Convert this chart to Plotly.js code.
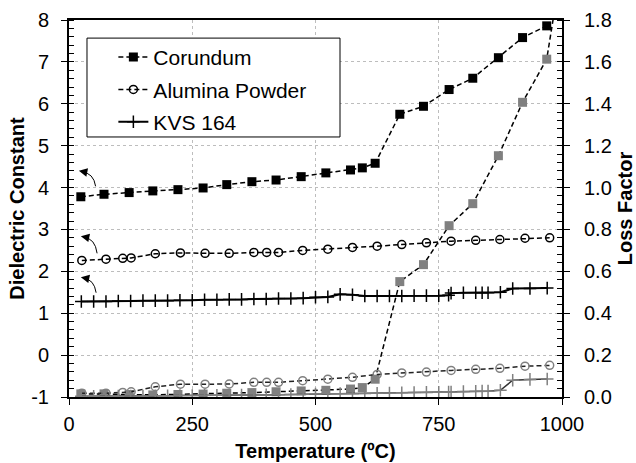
<!DOCTYPE html>
<html><head><meta charset="utf-8">
<script src="https://cdn.plot.ly/plotly-3.0.1.min.js"></script>
<style>html,body{margin:0;padding:0;background:#fff}#chart{width:636px;height:463px}</style>
</head><body><div id="chart"></div>
<script>
// ---- data ----
const corTemp = [24,71,122,170,221,272,320,371,420,471,521,571,595,621,671,719,771,819,871,920,969];
const corDiel = [3.78,3.84,3.88,3.92,3.95,3.99,4.07,4.14,4.18,4.26,4.35,4.42,4.47,4.58,5.75,5.94,6.34,6.61,7.10,7.58,7.86];
const corLossTemp = [24,71,122,170,221,272,320,371,420,471,521,571,595,621,671,719,771,819,871,920,969,992];
const corLoss = [0.015,0.015,0.012,0.010,0.012,0.014,0.018,0.021,0.025,0.029,0.032,0.038,0.045,0.085,0.551,0.632,0.818,0.923,1.152,1.407,1.613,1.95];

const aluTemp = [26,75,109,126,175,226,276,325,375,401,425,474,525,575,625,675,725,775,825,874,925,975];
const aluDiel = [2.26,2.29,2.31,2.32,2.42,2.44,2.43,2.43,2.45,2.45,2.45,2.50,2.53,2.57,2.60,2.64,2.68,2.72,2.74,2.76,2.79,2.80];
const aluLoss = [0.018,0.018,0.022,0.025,0.049,0.061,0.061,0.062,0.070,0.070,0.070,0.078,0.085,0.094,0.108,0.115,0.119,0.127,0.132,0.137,0.147,0.151];

const kvsTemp = [25,50,75,100,125,150,175,200,225,250,275,300,325,350,375,400,425,450,475,500,525,550,575,600,625,650,675,700,725,750,770,775,800,825,838,850,875,900,935,970];
const kvsDiel = [1.28,1.28,1.28,1.29,1.29,1.30,1.30,1.30,1.31,1.31,1.32,1.32,1.33,1.33,1.34,1.34,1.35,1.35,1.36,1.38,1.39,1.45,1.44,1.41,1.41,1.41,1.41,1.42,1.42,1.42,1.43,1.48,1.49,1.49,1.49,1.49,1.50,1.59,1.59,1.60];
const kvsLoss = [0.003,0.003,0.004,0.004,0.005,0.005,0.006,0.006,0.007,0.007,0.008,0.008,0.009,0.009,0.010,0.010,0.011,0.012,0.013,0.014,0.015,0.016,0.016,0.017,0.018,0.019,0.020,0.021,0.022,0.023,0.024,0.024,0.026,0.027,0.028,0.028,0.032,0.080,0.084,0.086];

const seriesNames = ['Corundum','Alumina Powder','KVS 164'];
const xTickVals = [0,250,500,750,1000];
const yTickVals = [-1,0,1,2,3,4,5,6,7,8];
const y2TickVals = [0,0.2,0.4,0.6,0.8,1.0,1.2,1.4,1.6,1.8];

// ---- traces ----
const GRAY = '#808080';
const DASH = '5px,3px';
const traces = [
  {x: corTemp, y: corDiel, name: seriesNames[0], mode: 'lines+markers', legendgroup: 'a',
   line: {color: '#000', width: 1.5, dash: DASH}, marker: {symbol: 'square', size: 9, color: '#000'}},
  {x: aluTemp, y: aluDiel, name: seriesNames[1], mode: 'lines+markers', legendgroup: 'b',
   line: {color: '#000', width: 1.5, dash: DASH}, marker: {symbol: 'circle-open', size: 8, color: '#000', line: {width: 1.5}}},
  {x: kvsTemp, y: kvsDiel, name: seriesNames[2], mode: 'lines+markers', legendgroup: 'c',
   line: {color: '#000', width: 2}, marker: {symbol: 'cross-thin-open', size: 9, color: '#000', line: {width: 1.5, color: '#000'}}},
  {x: corLossTemp, y: corLoss, yaxis: 'y2', mode: 'lines+markers', showlegend: false,
   line: {color: '#000', width: 1.5, dash: DASH}, marker: {symbol: 'square', size: 9, color: GRAY}},
  {x: aluTemp, y: aluLoss, yaxis: 'y2', mode: 'lines+markers', showlegend: false,
   line: {color: '#222', width: 1.5, dash: DASH}, marker: {symbol: 'circle-open', size: 8, color: GRAY, line: {width: 1.5}}},
  {x: kvsTemp, y: kvsLoss, yaxis: 'y2', mode: 'lines+markers', showlegend: false,
   line: {color: '#333', width: 1.5}, marker: {symbol: 'cross-thin-open', size: 9, color: GRAY, line: {width: 1.5, color: GRAY}}}
];

// ---- curved arrows (annotation decorations) ----
const arrowTails = [[54,4.03],[57,2.43],[55,1.49]];
const arrowTips = [[20,4.40],[24,2.84],[24,1.86]];
const shapes = [
  {type: 'rect', xref: 'paper', yref: 'paper', x0: 0.0365, x1: 0.5497, y0: 0.6897, y1: 0.952,
   fillcolor: '#fff', line: {color: '#000', width: 1}, layer: 'above'}
];
const annotations = [];
arrowTails.forEach((t, i) => {
  const tip = arrowTips[i];
  const cx = t[0] - 4, cy = tip[1] - 0.05;
  shapes.push({type: 'path', xref: 'x', yref: 'y', layer: 'above',
    path: `M${t[0]},${t[1]} Q${cx},${cy} ${tip[0] + 6},${tip[1] - 0.03}`,
    line: {color: '#000', width: 1}});
  annotations.push({x: tip[0], y: tip[1], xref: 'x', yref: 'y', text: '', showarrow: true,
    arrowhead: 2, arrowsize: 1.7, arrowwidth: 1, arrowcolor: '#000', ax: 5, ay: 1, standoff: 0});
});

const FONT = 'Liberation Sans, Arial, sans-serif';
const tickFont = {family: FONT, size: 20, color: '#000'};
const titleFont = {family: FONT, size: 20, color: '#000', weight: 'bold'};

const layout = {
  width: 636, height: 463,
  margin: {l: 69, r: 74, t: 20, b: 66},
  paper_bgcolor: '#fff', plot_bgcolor: '#fff',
  showlegend: true,
  legend: {x: 0.09, y: 0.955, xanchor: 'left', yanchor: 'top', bgcolor: 'rgba(0,0,0,0)', borderwidth: 0,
    font: {family: FONT, size: 21, color: '#000'},
    traceorder: 'grouped', tracegroupgap: 2},
  xaxis: {range: [0, 1000], tickvals: xTickVals, ticktext: xTickVals.map(String),
    showline: true, linecolor: '#000', linewidth: 2, mirror: true,
    ticks: 'outside', ticklen: 6, tickwidth: 1, tickcolor: '#000', ticklabelstandoff: 2,
    showgrid: true, gridcolor: '#bdbdbd', griddash: 'dot', gridwidth: 1,
    zeroline: false, tickfont: tickFont,
    title: {text: 'Temperature (ºC)', font: titleFont, standoff: 10}},
  yaxis: {range: [-1, 8], tickvals: yTickVals, ticktext: yTickVals.map(String),
    showline: true, linecolor: '#000', linewidth: 2,
    ticks: 'outside', ticklen: 6, tickwidth: 1, tickcolor: '#000', ticklabelstandoff: 8,
    minor: {dtick: 0.2, ticks: 'inside', ticklen: 5, tickwidth: 1, tickcolor: '#000', showgrid: false},
    showgrid: true, gridcolor: '#bdbdbd', griddash: 'dot', gridwidth: 1,
    zeroline: false, tickfont: tickFont,
    title: {text: 'Dielectric Constant', font: titleFont, standoff: 1}},
  yaxis2: {range: [0, 1.8], overlaying: 'y', side: 'right', tickvals: y2TickVals,
    ticktext: y2TickVals.map(v => v.toFixed(1)),
    showline: true, linecolor: '#000', linewidth: 2,
    ticks: 'outside', ticklen: 6, tickwidth: 1, tickcolor: '#000', ticklabelstandoff: 10,
    minor: {dtick: 0.04, ticks: 'inside', ticklen: 5, tickwidth: 1, tickcolor: '#000', showgrid: false},
    showgrid: false, zeroline: false, tickfont: tickFont,
    title: {text: 'Loss Factor', font: titleFont, standoff: 8}},
  shapes: shapes,
  annotations: annotations
};

Plotly.newPlot('chart', traces, layout, {displayModeBar: false, staticPlot: true});
</script>
</body></html>
